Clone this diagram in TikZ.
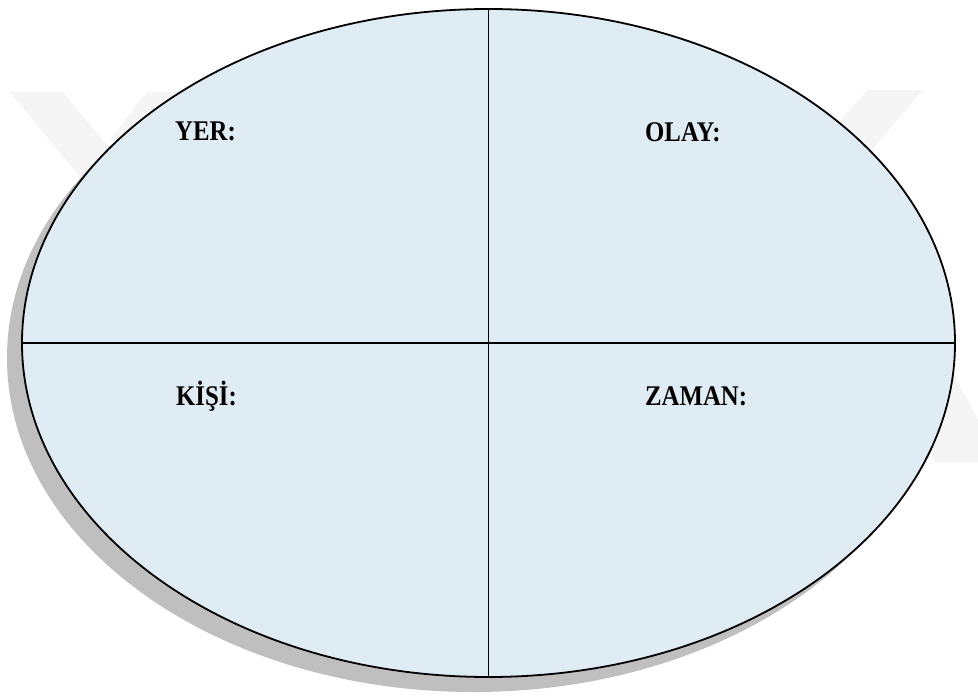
\documentclass[tikz,border=0pt]{standalone}
\usepackage{fontspec}
\setmainfont{Liberation Serif}
\definecolor{fillblue}{HTML}{DFECF3}
\definecolor{shadowgray}{HTML}{BFBFBF}
\definecolor{wmark}{HTML}{F5F5F5}
\begin{document}
\begin{tikzpicture}[x=1pt,y=-1pt,
  lbl/.style={anchor=base west, inner sep=0, xscale=0.87, font=\bfseries\fontsize{28.5}{32}\selectfont},
  divider/.style={line width=1.7pt, black}]
\useasboundingbox (0,0) rectangle (978,696);
\fill[white] (0,0) rectangle (978,696);
% faint watermark
\fill[wmark] (10,92) -- (63,92) -- (160,210) -- (107,210) -- cycle;
\fill[wmark] (147,92) -- (177,92) -- (140,140) -- (110,140) -- cycle;
\fill[wmark] (867,90) -- (923,90) -- (820,210) -- (764,210) -- cycle;
\fill[wmark] (860,300) -- (915,300) -- (978,420) -- (978,462) -- (935,462) -- cycle;
% shadow
\fill[shadowgray] (473.5,358) ellipse [x radius=466.5, y radius=334];
% main ellipse
\coordinate (c) at (488.5,343);
\filldraw[fill=fillblue, line width=1.8pt] (c) ellipse [x radius=466.5, y radius=334];
\coordinate (top) at (488.5,9);
\coordinate (bot) at (488.5,677);
\coordinate (lft) at (22,343);
\coordinate (rgt) at (955,343);
\draw[divider] (top) -- (bot);
\draw[divider] (lft) -- (rgt);
% labels
\node[lbl] (yer) at (175,140) {YER:};
\node[lbl] (olay) at (645,141) {OLAY:};
\node[lbl] (kisi) at (176,405) {KİŞİ:};
\node[lbl] (zaman) at (645,405) {ZAMAN:};
\end{tikzpicture}
\end{document}
